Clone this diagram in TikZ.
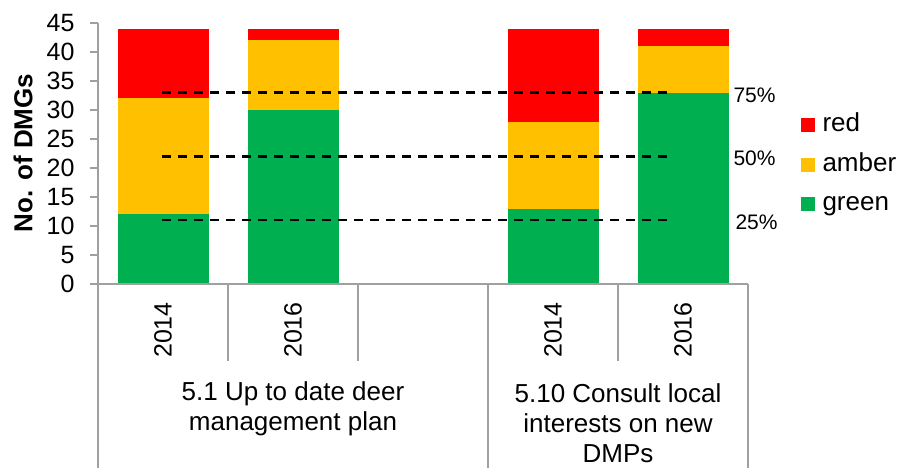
\documentclass[tikz,border=0pt]{standalone}
\usepackage{fontspec}
\setmainfont{Liberation Sans}
\usepackage{tikz}
\usepackage{xcolor}

\definecolor{barred}{HTML}{FF0000}
\definecolor{baramber}{HTML}{FFC000}
\definecolor{bargreen}{HTML}{00B050}
\definecolor{axisgray}{HTML}{A0A0A0}

\tikzset{
    axisline/.style={draw=axisgray, line width=1.2pt},
    quarter/.style={draw=black, line width=2.5pt, dash pattern=on 9pt off 7pt},
    ticklabel/.style={font=\fontsize{25}{30}\selectfont, anchor=east},
    yearlabel/.style={font=\fontsize{25}{30}\selectfont, rotate=90},
    catlabel/.style={font=\fontsize{26}{30}\selectfont, align=center},
    pctlabel/.style={font=\fontsize{21}{25}\selectfont, anchor=west},
    keybox/.style={minimum size=14pt, inner sep=0pt},
    keylabel/.style={font=\fontsize{26}{30}\selectfont, anchor=base west}
}

\begin{document}
\begin{tikzpicture}[x=1pt, y=1pt]

    \useasboundingbox (-98,-184) rectangle (800,284);

    % stacked bars: slot / green / amber / red / year
    \foreach \s/\g/\a/\r/\yr in {0/12/20/12/2014, 1/30/12/2/2016, 3/13/15/16/2014, 4/33/8/3/2016} {
        \fill[bargreen] ({\s*130+20},0) rectangle ({\s*130+111},{\g*5.8});
        \fill[baramber] ({\s*130+20},{\g*5.8}) rectangle ({\s*130+111},{(\g+\a)*5.8});
        \fill[barred] ({\s*130+20},{(\g+\a)*5.8}) rectangle ({\s*130+111},{(\g+\a+\r)*5.8});
        \node[yearlabel] (yr\s) at ({\s*130+65},-46) {\yr};
    }

    % value axis
    \draw[axisline] (0,0) -- (0,261);
    \foreach \v in {0,5,...,45} {
        \draw[axisline] (-8,{\v*5.8}) -- (0,{\v*5.8});
        \node[ticklabel] (t\v) at (-20,{\v*5.8}) {\v};
    }
    \node[font=\bfseries\fontsize{26}{30}\selectfont, rotate=90] (ytitle) at (-75,131) {No. of DMGs};

    % category axis
    \draw[axisline] (-8,0) -- (650,0);
    \foreach \x in {130,260,520} {
        \draw[axisline] (\x,0) -- (\x,-77);
    }
    \foreach \x in {0,390,650} {
        \draw[axisline] (\x,0) -- (\x,-184);
    }
    \node[catlabel] (c1) at (195,-125) {5.1 Up to date deer\\management plan};
    \node[catlabel] (c2) at (520,-139) {5.10 Consult local\\interests on new\\DMPs};

    % quartile lines
    \draw[quarter] (64,{33*5.8}) -- (576,{33*5.8});
    \draw[quarter] (64,{22*5.8}) -- (576,{22*5.8});
    \draw[quarter] (64,{11*5.8}) -- (576,{11*5.8});
    \node[pctlabel] (p75) at (632,189) {75\%};
    \node[pctlabel] (p50) at (632,126) {50\%};
    \node[pctlabel] (p25) at (634,62) {25\%};

    % legend
    \node[keybox, fill=barred] (k1) at (710,158.5) {};
    \node[keybox, fill=baramber] (k2) at (710,119) {};
    \node[keybox, fill=bargreen] (k3) at (710,80) {};
    \node[keylabel] (l1) at (721,152) {red};
    \node[keylabel] (l2) at (721,112) {amber};
    \node[keylabel] (l3) at (721,73) {green};

\end{tikzpicture}
\end{document}
